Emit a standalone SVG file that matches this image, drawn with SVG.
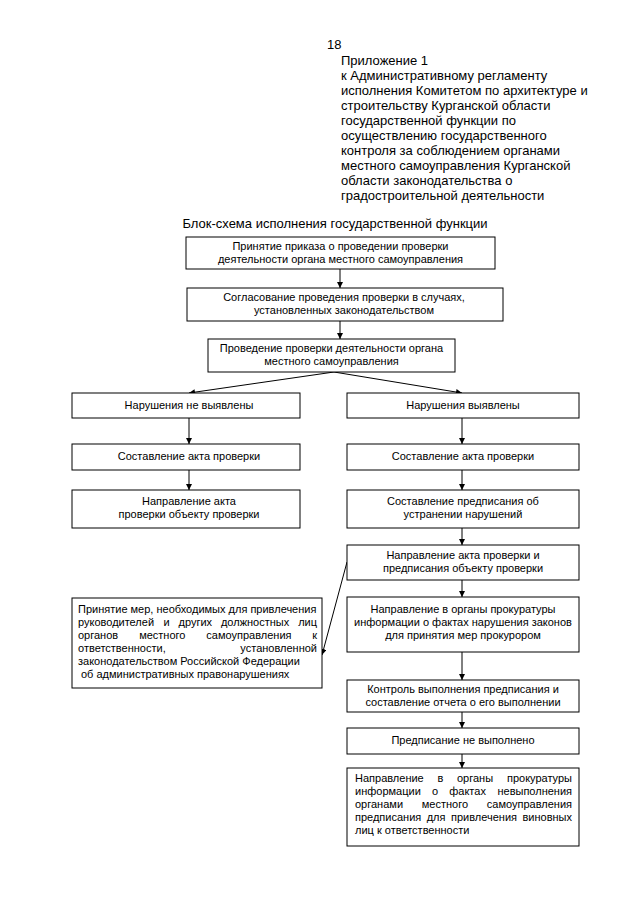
<svg xmlns="http://www.w3.org/2000/svg" width="640" height="905" viewBox="0 0 640 905">
<defs>
<style>
.bx{fill:#fff;stroke:#000;stroke-width:1}
.t{font-family:"Liberation Sans",Arial,sans-serif;font-size:11px;fill:#000}
.h{font-family:"Liberation Sans",Arial,sans-serif;font-size:13px;fill:#000}
.c{text-anchor:middle}
.e{text-anchor:end}
.ln{stroke:#000;stroke-width:1;fill:none;marker-end:url(#ah)}
</style>
<marker id="ah" viewBox="0 0 10 10" refX="10" refY="5" markerWidth="6" markerHeight="6" markerUnits="userSpaceOnUse" orient="auto">
<path d="M0,0 L10,5 L0,10 z" fill="#000"/>
</marker>
</defs>
<rect width="640" height="905" fill="#fff"/>

<g id="header">
<text class="h" x="327" y="49">18</text>
<text class="h" x="341" y="65">Приложение 1</text>
<text class="h" x="341" y="80">к Административному регламенту</text>
<text class="h" x="341" y="95">исполнения Комитетом по архитектуре и</text>
<text class="h" x="341" y="110">строительству Курганской области</text>
<text class="h" x="341" y="125">государственной функции по</text>
<text class="h" x="341" y="140">осуществлению государственного</text>
<text class="h" x="341" y="155">контроля за соблюдением органами</text>
<text class="h" x="341" y="170">местного самоуправления Курганской</text>
<text class="h" x="341" y="185">области законодательства о</text>
<text class="h" x="341" y="200">градостроительной деятельности</text>
<text class="h c" x="335" y="228">Блок-схема исполнения государственной функции</text>
</g>

<g id="connectors">
<line class="ln" x1="340" y1="269" x2="340" y2="288"/>
<line class="ln" x1="340" y1="321" x2="340" y2="339"/>
<line class="ln" x1="334" y1="372" x2="189" y2="393"/>
<line class="ln" x1="334" y1="372" x2="462" y2="393"/>
<line class="ln" x1="189" y1="418" x2="189" y2="444"/>
<line class="ln" x1="189" y1="470" x2="189" y2="490"/>
<line class="ln" x1="462" y1="418" x2="462" y2="444"/>
<line class="ln" x1="462" y1="470" x2="462" y2="490"/>
<line class="ln" x1="462" y1="528" x2="462" y2="545"/>
<line class="ln" x1="347" y1="562" x2="322" y2="655"/>
<line class="ln" x1="462" y1="580" x2="462" y2="597"/>
<line class="ln" x1="462" y1="652" x2="462" y2="680"/>
<line class="ln" x1="462" y1="712" x2="462" y2="728"/>
<line class="ln" x1="462" y1="754" x2="462" y2="768"/>
</g>

<g id="n1">
<rect class="bx" x="186" y="237" width="309" height="32"/>
<text class="t c" x="340.5" y="250">Принятие приказа о проведении проверки</text>
<text class="t c" x="340.5" y="263">деятельности органа местного самоуправления</text>
</g>

<g id="n2">
<rect class="bx" x="187" y="288" width="316" height="33"/>
<text class="t c" x="344" y="301">Согласование проведения проверки в случаях,</text>
<text class="t c" x="344" y="314">установленных законодательством</text>
</g>

<g id="n3">
<rect class="bx" x="208" y="339" width="247" height="33"/>
<text class="t c" x="331.5" y="352">Проведение проверки деятельности органа</text>
<text class="t c" x="331.5" y="365">местного самоуправления</text>
</g>

<g id="l1">
<rect class="bx" x="72" y="393" width="228" height="25"/>
<text class="t c" x="189" y="409">Нарушения не выявлены</text>
</g>

<g id="l2">
<rect class="bx" x="72" y="444" width="228" height="26"/>
<text class="t c" x="189" y="460">Составление акта проверки</text>
</g>

<g id="l3">
<rect class="bx" x="72" y="490" width="228" height="38"/>
<text class="t c" x="189" y="505">Направление акта</text>
<text class="t c" x="189" y="518">проверки объекту проверки</text>
</g>

<g id="r1">
<rect class="bx" x="347" y="393" width="232" height="25"/>
<text class="t c" x="463" y="409">Нарушения выявлены</text>
</g>

<g id="r2">
<rect class="bx" x="347" y="444" width="232" height="26"/>
<text class="t c" x="463" y="460">Составление акта проверки</text>
</g>

<g id="r3">
<rect class="bx" x="347" y="490" width="232" height="38"/>
<text class="t c" x="463" y="505">Составление предписания об</text>
<text class="t c" x="463" y="518">устранении нарушений</text>
</g>

<g id="r4">
<rect class="bx" x="347" y="545" width="232" height="35"/>
<text class="t c" x="463" y="559">Направление акта проверки и</text>
<text class="t c" x="463" y="572">предписания объекту проверки</text>
</g>

<g id="measures">
<rect class="bx" x="72" y="598" width="250" height="90"/>
<text class="t" x="78" y="613">Принятие мер, необходимых для привлечения</text>
<text class="t" x="78" y="626">руководителей</text>
<text class="t c" x="166.7" y="626">и</text>
<text class="t c" x="195.3" y="626">других</text>
<text class="t c" x="255.1" y="626">должностных</text>
<text class="t e" x="317" y="626">лиц</text>
<text class="t" x="78" y="639">органов</text>
<text class="t c" x="162.3" y="639">местного</text>
<text class="t c" x="248.9" y="639">самоуправления</text>
<text class="t e" x="317" y="639">к</text>
<text class="t" x="78" y="652">ответственности,</text>
<text class="t e" x="317" y="652">установленной</text>
<text class="t" x="78" y="665">законодательством Российской Федерации</text>
<text class="t" x="81" y="678">об административных правонарушениях</text>
</g>

<g id="r5">
<rect class="bx" x="347" y="597" width="232" height="55"/>
<text class="t c" x="463" y="613">Направление в органы прокуратуры</text>
<text class="t c" x="463" y="626">информации о фактах нарушения законов</text>
<text class="t c" x="463" y="639">для принятия мер прокурором</text>
</g>

<g id="r6">
<rect class="bx" x="347" y="680" width="232" height="32"/>
<text class="t c" x="463" y="693">Контроль выполнения предписания и</text>
<text class="t c" x="463" y="706">составление отчета о его выполнении</text>
</g>

<g id="r7">
<rect class="bx" x="347" y="728" width="232" height="26"/>
<text class="t c" x="463" y="744">Предписание не выполнено</text>
</g>

<g id="r8">
<rect class="bx" x="347" y="768" width="232" height="78"/>
<text class="t" x="355" y="782">Направление</text>
<text class="t c" x="440.4" y="782">в</text>
<text class="t c" x="475" y="782">органы</text>
<text class="t e" x="572" y="782">прокуратуры</text>
<text class="t" x="355" y="795">информации</text>
<text class="t c" x="435" y="795">о</text>
<text class="t c" x="467.6" y="795">фактах</text>
<text class="t e" x="572" y="795">невыполнения</text>
<text class="t" x="355" y="808">органами</text>
<text class="t c" x="444.9" y="808">местного</text>
<text class="t e" x="572" y="808">самоуправления</text>
<text class="t" x="355" y="821">предписания</text>
<text class="t c" x="436.1" y="821">для</text>
<text class="t c" x="484" y="821">привлечения</text>
<text class="t e" x="572" y="821">виновных</text>
<text class="t" x="355" y="834">лиц к ответственности</text>
</g>
</svg>
